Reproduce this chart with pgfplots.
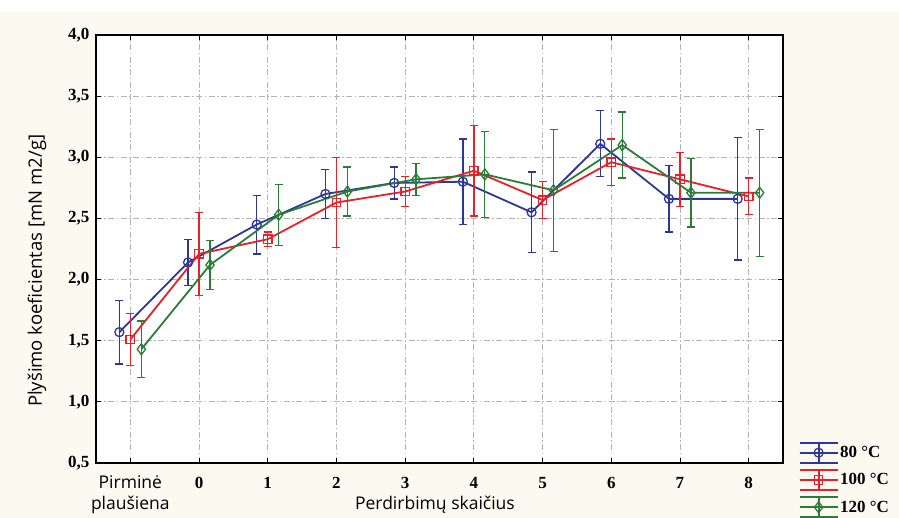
\documentclass[border=0pt]{standalone}
\usepackage{fontspec}
\setmainfont{Liberation Serif}
\setsansfont{Open Sans}
\usepackage{pgfplots}
\pgfplotsset{compat=1.18}
\definecolor{cream}{HTML}{FCF9F0}
\definecolor{sblue}{HTML}{2D3796}
\definecolor{sred}{HTML}{E8202A}
\definecolor{sgreen}{HTML}{2A7D36}
\definecolor{gridgray}{HTML}{B4B4B4}
\pgfplotsset{
  errstyle/.style={error bars/.cd, y dir=both, y explicit,
    error bar style={line width=1.3pt, solid},
    error mark options={rotate=90, mark size=4pt, line width=1.3pt}},
}
\begin{document}
\begin{tikzpicture}
\path[use as bounding box, fill=cream] (-96pt,-55pt) rectangle (803pt,463pt);
\fill[white] (-96pt,451pt) rectangle (803pt,463pt);
\begin{axis}[
  at={(0pt,0pt)}, anchor=south west,
  scale only axis, width=687pt, height=428pt,
  xmin=-0.5, xmax=9.5, ymin=0.5, ymax=4.0,
  axis background/.style={fill=white},
  axis line style={line width=1.3pt, black},
  tick align=inside, major tick length=5pt,
  tick style={black, line width=0.8pt},
  grid=major,
  grid style={gridgray, line width=0.8pt, dash pattern=on 6pt off 2.5pt on 1.5pt off 2.5pt},
  xtick={0,1,2,3,4,5,6,7,8,9},
  xticklabels={{\sffamily\mdseries\fontsize{17.5}{21}\selectfont\begin{tabular}[t]{@{}c@{}}Pirminė\\plaušiena\end{tabular}},0,1,2,3,4,5,6,7,8},
  xticklabel style={font=\bfseries\fontsize{17}{20}\selectfont, anchor=base, yshift=-26pt},
  ytick={0.5,1.0,1.5,2.0,2.5,3.0,3.5,4.0},
  yticklabels={{0,5},{1,0},{1,5},{2,0},{2,5},{3,0},{3,5},{4,0}},
  yticklabel style={font=\bfseries\fontsize{17}{20}\selectfont, xshift=-3pt},
  xlabel={Perdirbimų skaičius},
  xlabel style={font=\sffamily\fontsize{17.5}{20}\selectfont, at={(axis description cs:0.4934,-0.1098)}, anchor=base},
  ylabel={Plyšimo koeficientas [mN m2/g]},
  ylabel style={font=\sffamily\fontsize{18.5}{20}\selectfont, at={(axis description cs:-0.0859,0.449)}, anchor=center},
  legend style={at={(axis description cs:1.0226,0.050)}, anchor=north west,
    draw=none, fill=none, inner sep=0pt, row sep=5.5pt,
    font=\bfseries\fontsize{17}{20}\selectfont,
    nodes={inner sep=1.5pt}},
  legend cell align=left,
  legend image code/.code={
    \draw[#1, mark=none, solid] (0pt,10pt)--(38pt,10pt) (0pt,-10pt)--(38pt,-10pt) (19pt,10pt)--(19pt,-10pt) (0pt,0pt)--(38pt,0pt);
    \draw[#1, mark repeat=2, mark phase=2] plot coordinates {(0pt,0pt) (19pt,0pt) (38pt,0pt)};
  },
]
\addplot[sblue, line width=1.8pt, mark=o, mark size=4.5pt, mark options={solid, fill=white, line width=1.3pt}, errstyle]
  table[x=x, y=y, y error=e] {
x y e
-0.16 1.57 0.26
0.84 2.14 0.19
1.84 2.45 0.24
2.84 2.70 0.20
3.84 2.79 0.13
4.84 2.80 0.35
5.84 2.55 0.33
6.84 3.11 0.27
7.84 2.66 0.27
8.84 2.66 0.50
};
\addlegendentry{80 °C}
\addplot[sred, line width=1.8pt, mark=square, mark size=4.2pt, mark options={solid, fill=white, line width=1.3pt}, errstyle]
  table[x=x, y=y, y error=e] {
x y e
0 1.51 0.21
1 2.21 0.34
2 2.33 0.06
3 2.63 0.37
4 2.72 0.12
5 2.89 0.37
6 2.65 0.15
7 2.96 0.19
8 2.82 0.22
9 2.68 0.15
};
\addlegendentry{100 °C}
\addplot[sgreen, line width=1.8pt, mark=diamond, mark size=5.5pt, mark options={solid, fill=white, line width=1.3pt}, errstyle]
  table[x=x, y=y, y error=e] {
x y e
0.16 1.43 0.23
1.16 2.12 0.20
2.16 2.53 0.25
3.16 2.72 0.20
4.16 2.82 0.13
5.16 2.86 0.35
6.16 2.73 0.50
7.16 3.10 0.27
8.16 2.71 0.28
9.16 2.71 0.52
};
\addlegendentry{120 °C}
\end{axis}
\end{tikzpicture}
\end{document}
